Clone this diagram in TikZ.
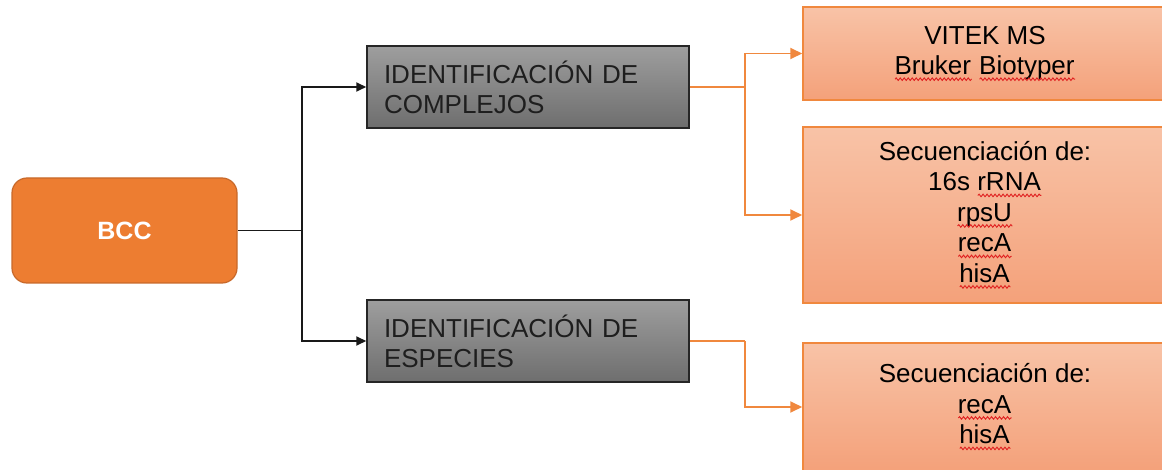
\documentclass[tikz,border=0pt]{standalone}
\usepackage{fontspec}
\setmainfont{Liberation Sans}
\usetikzlibrary{arrows.meta,decorations.pathmorphing}
\definecolor{bccfill}{HTML}{ED7D31}
\definecolor{bccdraw}{HTML}{C8692A}
\definecolor{grtop}{HTML}{9E9E9E}
\definecolor{grbot}{HTML}{6E6E6E}
\definecolor{ortop}{HTML}{F8C3A7}
\definecolor{orbot}{HTML}{F4A17A}
\definecolor{ordraw}{HTML}{F0883E}
\definecolor{orline}{HTML}{F0883E}
\definecolor{squig}{HTML}{E02020}
\definecolor{txt}{HTML}{1E1E1E}
\newlength\sqwidth
\newcommand\rwave[1]{\settowidth\sqwidth{#1}\leavevmode\rlap{#1}%
  \tikz[baseline=0pt,x=1pt,y=1pt]\path[draw=squig,fill=none,line width=0.9pt,sharp corners,
    decorate,decoration={snake,amplitude=1.3pt,segment length=4pt}]
    (0,-4.5) -- (\sqwidth,-4.5);}
\tikzset{
  bccbox/.style={draw=bccdraw, fill=bccfill, line width=1.2pt, rounded corners=15pt,
    minimum width=225pt, minimum height=105pt, text=white,
    font=\bfseries\fontsize{25}{29}\selectfont},
  graybox/.style={draw=black!85, line width=1.5pt, top color=grtop, bottom color=grbot,
    minimum width=322pt, minimum height=82pt, inner xsep=17pt, text width=288pt,
    align=left, text=txt, font=\fontsize{26}{30}\selectfont},
  orbox/.style={draw=ordraw, line width=1.5pt, top color=ortop, bottom color=orbot,
    minimum width=364pt, align=center, text=black, font=\fontsize{26}{30.5}\selectfont},
  blkline/.style={draw=black!90, line width=1.8pt},
  blkarrow/.style={blkline, -{Triangle[length=10pt,width=9pt]}},
  orlink/.style={draw=orline, line width=1.8pt},
  orarrow/.style={orlink, -{Triangle[length=12pt,width=11pt]}},
}
\begin{document}
\begin{tikzpicture}[x=1pt,y=-1pt]
\useasboundingbox (0,0) rectangle (1162,470);
\begin{scope}
\clip (0,0) rectangle (1162,470);
\node[bccbox] (bcc) at (124.5,230.5) {BCC};
\node[graybox] (g1) at (528,87) {IDENTIFICACIÓN DE\\COMPLEJOS};
\node[graybox] (g2) at (528,341) {IDENTIFICACIÓN DE\\ESPECIES};
\node[orbox, minimum height=93pt] (oa) at (985,53.5) {VITEK MS\\\rwave{Bruker} \rwave{Biotyper}};
\node[orbox, minimum height=176pt] (ob) at (985,215) {Secuenciación de:\\16s \rwave{rRNA}\\\rwave{rpsU}\\\rwave{recA}\\\rwave{hisA}};
\node[orbox, minimum height=128pt] (oc) at (985,407) {Secuenciación de:\\\rwave{recA}\\\rwave{hisA}};
\end{scope}
\coordinate (jb) at (302,230.5);
\coordinate (ja) at (745,87);
\coordinate (jc) at (745,341);
\draw[blkline] (bcc.east) -- (jb);
\draw[blkarrow] (jb) |- (g1.west);
\draw[blkarrow] (jb) |- (g2.west);
\draw[orlink] (g1.east) -- (ja);
\draw[orarrow] (ja) |- (oa.west);
\draw[orarrow] (ja) |- (ob.west);
\draw[orlink] (g2.east) -- (jc);
\draw[orarrow] (jc) |- (oc.west);
\end{tikzpicture}
\end{document}
